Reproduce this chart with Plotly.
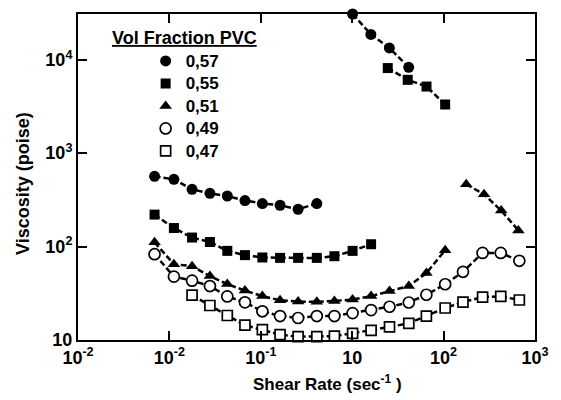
import plotly.graph_objects as go

# ---- data (shear rate, viscosity) ----
v057_lo_x = [0.0688, 0.112, 0.177, 0.2775, 0.430, 0.671, 1.04, 1.625, 2.56, 4.10]
v057_lo_y = [565, 525, 410, 372, 348, 311, 289, 277, 251, 289]
v057_hi_x = [10.1, 16.0, 25.5, 41.5]
v057_hi_y = [30900, 18700, 13400, 8300]

v055_lo_x = [0.0688, 0.112, 0.177, 0.2775, 0.430, 0.671, 1.04, 1.625, 2.56, 4.10, 6.39, 10.1, 16.1]
v055_lo_y = [220, 158, 125, 112, 90, 81, 76.5, 75.7, 75.7, 75.7, 78.9, 90, 106]
v055_hi_x = [24.5, 40.5, 65, 104]
v055_hi_y = [8150, 6100, 5170, 3320]

v051_lo_x = [0.0688, 0.112, 0.177, 0.2775, 0.430, 0.671, 1.04, 1.625, 2.56, 4.10, 6.39,
             10.1, 16.1, 25.6, 41.6, 64.8, 104]
v051_lo_y = [111, 64.9, 61.7, 48.3, 39.7, 33.8, 29.5, 26.6, 25.8, 25.6, 26.2,
             27.1, 29.5, 33.4, 37.8, 52.0, 91.5]
v051_hi_x = [177, 277, 427, 658]
v051_hi_y = [464, 363, 243, 149]

v049_x = [0.0688, 0.112, 0.177, 0.2775, 0.430, 0.671, 1.04, 1.625, 2.56, 4.10, 6.39,
          10.1, 16.1, 25.6, 41.6, 64.8, 104, 163, 267, 422, 674]
v049_y = [82.9, 47.7, 43.2, 37.8, 29.3, 25.3, 20.3, 18.05, 17.2, 18.05, 18.05,
          19.4, 20.9, 22.7, 25.2, 30.5, 39.5, 53.7, 85.6, 85.6, 70.4]

v047_x = [0.177, 0.2775, 0.430, 0.671, 1.04, 1.625, 2.56, 4.10, 6.39,
          10.1, 16.1, 25.6, 41.6, 64.8, 104, 163, 267, 422, 674]
v047_y = [30.3, 23.4, 18.3, 14.4, 12.9, 11.4, 10.85, 10.85, 11.0,
          11.8, 12.7, 13.8, 15.1, 18.05, 22.0, 25.5, 28.8, 29.3, 26.8]

series_names = ["0,57", "0,55", "0,51", "0,49", "0,47"]

x_tickvals = [0.01, 0.1, 1, 10, 100, 1000]
x_ticktext = ["10<sup>-2</sup>", "10<sup>-2</sup>", "10<sup>-1</sup>", "10",
              "10<sup>2</sup>", "10<sup>3</sup>"]
y_tickvals = [10, 100, 1000, 10000]
y_ticktext = ["10", "10<sup>2</sup>", "10<sup>3</sup>", "10<sup>4</sup>"]

FONT = "Liberation Sans, Arial, Helvetica, sans-serif"

branches = [
    [(v057_lo_x, v057_lo_y), (v057_hi_x, v057_hi_y)],
    [(v055_lo_x, v055_lo_y), (v055_hi_x, v055_hi_y)],
    [(v051_lo_x, v051_lo_y), (v051_hi_x, v051_hi_y)],
    [(v049_x, v049_y)],
    [(v047_x, v047_y)],
]
symbols = ["circle", "square", "triangle-up", "circle-open", "square-open"]
sizes = [11, 10, 11, 11, 10]

fig = go.Figure()

# dashed connecting lines (no legend)
for br in branches:
    for bx, by in br:
        fig.add_trace(go.Scatter(
            x=bx, y=by, mode="lines", showlegend=False, hoverinfo="skip",
            line=dict(color="black", width=2.5, dash="6px,3px")))

# markers (legend entries)
for name, br, sym, sz in zip(series_names, branches, symbols, sizes):
    xs, ys = [], []
    for bx, by in br:
        xs += list(bx)
        ys += list(by)
    open_ = sym.endswith("open")
    fig.add_trace(go.Scatter(
        x=xs, y=ys, mode="markers", name="<span style='font-size:17px'><b>%s</b></span>" % name,
        cliponaxis=False,
        marker=dict(symbol=sym.replace("-open", ""), size=sz,
                    color="white" if open_ else "black",
                    line=dict(color="black", width=1.7 if open_ else 0))))

axis_common = dict(
    type="log", showline=True, linecolor="black", linewidth=2, mirror="ticks",
    ticks="inside", ticklen=9, tickwidth=1.5, tickcolor="black",
    showgrid=False, zeroline=False,
    tickfont=dict(family=FONT, size=18, color="black", weight="bold"),
)

fig.update_layout(
    width=561, height=400,
    margin=dict(l=78, r=17, t=13, b=60),
    paper_bgcolor="white", plot_bgcolor="white",
    font=dict(family=FONT, color="black"),
    xaxis=dict(range=[-2, 3], tickvals=x_tickvals, ticktext=x_ticktext, **axis_common),
    yaxis=dict(range=[1, 4.49], tickvals=y_tickvals, ticktext=y_ticktext, **axis_common),
    legend=dict(x=0.148, y=0.906, xanchor="left", yanchor="top",
                bgcolor="rgba(0,0,0,0)", borderwidth=0,
                font=dict(family=FONT, size=15, color="black"),
                itemsizing="trace"),
    showlegend=True,
    annotations=[
        dict(text="<b><u>Vol Fraction PVC</u></b>", xref="paper", yref="paper",
             x=0.232, y=0.927, xanchor="center", yanchor="middle", showarrow=False,
             font=dict(family=FONT, size=18, color="black")),
        dict(text="<b>Viscosity (poise)</b>", xref="paper", yref="paper",
             x=-0.120, y=0.479, xanchor="center", yanchor="middle", showarrow=False,
             textangle=-90, font=dict(family=FONT, size=18, color="black")),
        dict(text="<b>Shear Rate (sec<sup>-1</sup> )</b>", xref="paper", yref="paper",
             x=0.545, y=-0.131, xanchor="center", yanchor="middle", showarrow=False,
             font=dict(family=FONT, size=17, color="black")),
    ],
)

fig.write_html("out.html")
